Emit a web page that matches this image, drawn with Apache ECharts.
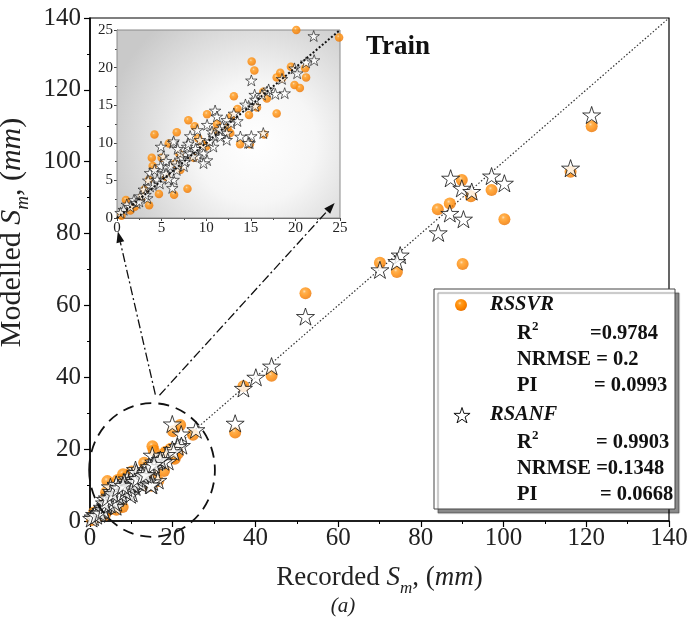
<!DOCTYPE html>
<html><head><meta charset="utf-8">
<script src="https://cdn.jsdelivr.net/npm/echarts@6/dist/echarts.min.js"></script>
<style>html,body{margin:0;padding:0;background:#fff}#c{width:687px;height:624px}</style>
</head><body><div id="c"></div>
<script>
// ---------- data ----------
const rssvrRecorded = [121.3,116.2,89.9,92.1,97.1,100.2,87.0,84.1,90.1,74.2,70.1,52.1,43.9,37.1,35.1,21.8,
  20.1,24.9,15.1,15.4,18.3,17.9,21.1,21.2,19.9,20.5,16.8,13.1,17.9,14.8,10.1,8.0,11.2,8.7,4.2,6.7,12.7,9.1,13.8,14.9,16.5,5.8,5.0,3.9,4.0,8.6,3.6,7.1,4.7,6.4,7.9,3.1,3.6,1.0,15.7,12.8,11.0,10.0,6.5,2.0,1.5,12.4,9.5,7.0,5.5,2.8,18.5,16.4,19.5,0.5,13.5];
const rssvrModelled = [109.9,97.2,94.9,90.4,92.1,84.0,88.4,86.8,71.5,69.3,71.9,63.4,40.4,37.5,24.6,26.7,
  25.0,24.0,20.8,19.6,19.3,18.7,19.9,18.7,17.7,17.3,15.9,16.2,13.9,13.7,13.8,13.0,12.5,12.2,11.1,11.4,11.3,10.6,9.8,9.8,11.1,9.9,8.0,8.0,6.9,8.0,5.1,6.4,3.2,3.1,3.9,3.8,1.7,2.4,14.7,13.5,11.5,9.5,7.2,1.5,1.0,12.0,10.0,8.5,5.5,2.8,18.6,16.8,20.1,0.3,14.5];
const rsanfRecorded = [121.3,116.2,87.2,89.9,92.3,97.1,100.2,87.0,90.3,84.2,75.0,74.2,70.1,52.1,43.9,40.1,37.1,35.1,25.6,19.9,
  22.05,22.1,21.2,19.9,20.2,18.5,18.8,17.75,16.8,16.25,15.06,15.43,15.5,14.76,16.4,15.06,13.83,14.87,11.0,13.1,12.3,11.8,10.1,9.0,8.2,6.3,4.93,12.3,11.6,10.8,9.7,10.1,9.0,9.7,8.2,7.3,6.5,6.7,6.0,4.9,5.2,3.7,6.35,6.2,4.5,3.7,3.0,2.6,1.9,1.1,0.75,0.4,2.2,3.4,7.5,7.85,9.3,10.65,7.1,5.2,11.2,17.0,14.4,15.5,12.3,14.7,6.35,
  1.5,2.5,3.2,4.0,4.8,5.5,5.8,6.8,7.6,8.5,8.8,9.6,10.4,10.8,11.5,12.8,13.5,3.5,4.2,5.5,6.8,8.0];
const rsanfModelled = [113.0,98.2,95.4,92.6,91.7,96.0,94.0,85.6,84.0,80.2,74.0,72.2,69.9,56.9,43.1,40.0,36.9,27.2,25.4,27.0,
  24.2,21.0,20.7,19.9,19.25,18.5,16.6,16.5,16.8,16.4,18.3,16.4,14.9,14.9,11.3,10.9,10.84,9.96,14.3,13.9,13.05,12.2,12.4,11.7,10.9,10.0,9.5,11.3,10.8,9.5,8.6,7.7,8.2,7.3,8.6,8.0,7.3,6.4,6.9,6.9,6.0,6.0,5.1,4.0,5.1,4.2,3.8,2.9,2.4,1.8,1.1,0.7,2.0,2.65,6.9,9.5,10.4,11.5,8.6,8.2,13.5,17.1,15.1,15.75,10.4,10.0,10.2,
  1.5,2.2,3.1,4.4,4.6,5.9,5.2,7.0,7.5,8.2,9.2,9.6,10.2,11.0,11.8,12.6,12.9,5.0,6.4,7.6,9.2,9.9];
const mainTicks = [0,20,40,60,80,100,120,140];
const insetTicks = [0,5,10,15,20,25];
const seriesNames = ['RSSVR','RSANF'];
const statLabels = ['NRMSE','PI'];
const rssvrStats = ['=0.9784','NRMSE = 0.2','= 0.0993'];
const rsanfStats = ['= 0.9903','NRMSE =0.1348','= 0.0668'];

// ---------- styling ----------
const FONT = "'Liberation Serif','Times New Roman',serif";
const zip = (a, b) => a.map((v, i) => [v, b[i]]);
const STAR = 'path://M50 0 L61.23 34.55 L97.55 34.55 L68.17 55.9 L79.39 90.45 L50 69.1 L20.61 90.45 L31.83 55.9 L2.45 34.55 L38.77 34.55 Z';
const sphere = {type:'radial', x:0.4, y:0.35, r:0.66, colorStops:[
  {offset:0,color:'#ffd7a2'},{offset:0.22,color:'#ff9d22'},{offset:0.6,color:'#ff8800'},{offset:1,color:'#ea7300'}]};
const insetBg = {type:'radial', x:0.62, y:0.6, r:0.8, colorStops:[
  {offset:0,color:'#ffffff'},{offset:0.4,color:'#f6f6f6'},{offset:1,color:'#c9c9c9'}]};

const rssvrData = zip(rssvrRecorded, rssvrModelled);
const rsanfData = zip(rsanfRecorded, rsanfModelled);
const mainMax = mainTicks[mainTicks.length-1], mainStep = mainTicks[1]-mainTicks[0];
const insMax = insetTicks[insetTicks.length-1], insStep = insetTicks[1]-insetTicks[0];

function nameRich(fs){
  return {
    n:{fontSize:fs, fontFamily:FONT, color:'#222', lineHeight:fs+11},
    i:{fontSize:fs, fontFamily:FONT, color:'#222', fontStyle:'italic', lineHeight:fs+11},
    s:{fontSize:Math.round(fs*0.64), fontFamily:FONT, color:'#222', fontStyle:'italic', lineHeight:Math.round(fs*0.64), verticalAlign:'bottom'}
  };
}

const chart = echarts.init(document.getElementById('c'), null, {renderer:'canvas'});
const option = {
  animation:false,
  backgroundColor:'#fff',
  title:{text:'Train', left:361, top:29, textStyle:{fontFamily:FONT, fontSize:27, fontWeight:'bold', color:'#111'}},
  grid:[
    {left:90, top:18, width:579, height:503, show:true, borderColor:'#000', borderWidth:1.2, backgroundColor:'transparent',
     containLabel:false, outerBoundsMode:'none'},
    {left:117, top:30, width:223, height:188, show:true, borderColor:'#8a8a8a', borderWidth:1, backgroundColor:insetBg, z:1,
     containLabel:false, outerBoundsMode:'none'}
  ],
  xAxis:[
    {gridIndex:0, type:'value', min:0, max:mainMax, interval:mainStep,
     name:'{n|Recorded }{i|S}{s|m}{n|, (}{i|mm}{n|)}', nameLocation:'middle', nameGap:38,
     nameTextStyle:{rich:nameRich(27)},
     axisLine:{show:true, lineStyle:{color:'#000', width:1.5}},
     axisTick:{show:true, inside:false, length:6, lineStyle:{color:'#000', width:1.2}},
     minorTick:{show:true, splitNumber:2, length:3, lineStyle:{color:'#000', width:1}},
     axisLabel:{fontFamily:FONT, fontSize:25, color:'#222', margin:5},
     splitLine:{show:false}},
    {gridIndex:1, type:'value', min:0, max:insMax, interval:insStep,
     axisLine:{show:true, lineStyle:{color:'#555', width:1}},
     axisTick:{show:true, inside:false, length:3, lineStyle:{color:'#444'}},
     minorTick:{show:true, splitNumber:2, length:2, lineStyle:{color:'#444'}},
     axisLabel:{fontFamily:FONT, fontSize:15, color:'#222', margin:3},
     splitLine:{show:false}}
  ],
  yAxis:[
    {gridIndex:0, type:'value', min:0, max:mainMax, interval:mainStep,
     name:'{n|Modelled }{i|S}{s|m}{n|, (}{i|mm}{n|)}', nameLocation:'middle', nameGap:50,
     nameTextStyle:{rich:nameRich(30), padding:[0,0,0,74]},
     axisLine:{show:true, lineStyle:{color:'#000', width:1.5}},
     axisTick:{show:true, inside:false, length:6, lineStyle:{color:'#000', width:1.2}},
     minorTick:{show:true, splitNumber:2, length:3, lineStyle:{color:'#000', width:1}},
     axisLabel:{fontFamily:FONT, fontSize:25, color:'#222', margin:9},
     splitLine:{show:false}},
    {gridIndex:1, type:'value', min:0, max:insMax, interval:insStep,
     axisLine:{show:true, lineStyle:{color:'#555', width:1}},
     axisTick:{show:true, inside:false, length:3, lineStyle:{color:'#444'}},
     minorTick:{show:true, splitNumber:2, length:2, lineStyle:{color:'#444'}},
     axisLabel:{fontFamily:FONT, fontSize:15, color:'#222', margin:4},
     splitLine:{show:false}}
  ],
  series:[
    {type:'line', xAxisIndex:0, yAxisIndex:0, data:[[0,0],[mainMax,mainMax]], symbol:'none', silent:true,
     lineStyle:{color:'#333', width:1.2, type:[1.5,2]}, z:1},
    {name:seriesNames[0], type:'scatter', xAxisIndex:0, yAxisIndex:0, data:rssvrData, symbolSize:12,
     itemStyle:{color:sphere}, z:2},
    {name:seriesNames[1], type:'scatter', xAxisIndex:0, yAxisIndex:0, data:rsanfData, symbol:STAR, symbolSize:18, symbolKeepAspect:true,
     itemStyle:{color:'#fff', borderColor:'#111', borderWidth:1}, z:3},
    {type:'scatter', xAxisIndex:1, yAxisIndex:1, data:rssvrData, symbolSize:8.5, clip:true,
     itemStyle:{color:sphere}, z:4},
    {type:'scatter', xAxisIndex:1, yAxisIndex:1, data:rsanfData, symbol:STAR, symbolSize:11.5, symbolKeepAspect:true, clip:true,
     itemStyle:{color:'#fff', borderColor:'#111', borderWidth:0.8}, z:5},
    {type:'line', xAxisIndex:1, yAxisIndex:1, data:[[0,0],[insMax,insMax]], symbol:'none', silent:true,
     lineStyle:{color:'#111', width:2, type:[2,2]}, z:6}
  ]
};
chart.setOption(option);

// ---------- annotations (anchored to axis coordinates) ----------
const P = (g, pt) => chart.convertToPixel({gridIndex:g}, pt);
const circC = P(0,[15,14.2]), circR = P(0,[30.2,32.8]);
const rx = circR[0]-circC[0], ry = circC[1]-circR[1];
const start1 = P(0,[15.8,35.2]), start2 = P(0,[16.8,35.0]);
const tip1 = P(1,[0.1,-1.8]), tip2 = P(1,[24.4,2.0]);
function head(from, to, len, half){
  const dx=to[0]-from[0], dy=to[1]-from[1], L=Math.hypot(dx,dy), ux=dx/L, uy=dy/L;
  const bx=to[0]-ux*len, by=to[1]-uy*len;
  return {base:[bx,by], pts:[[to[0],to[1]],[bx-uy*half,by+ux*half],[bx+uy*half,by-ux*half]]};
}
const h1 = head(start1, tip1, 11, 4), h2 = head(start2, tip2, 11, 4);
const dashDot = [9,3,2,3];

function starPts(cx, cy, R){
  const pts=[]; const r=R*0.382;
  for(let k=0;k<10;k++){ const a=-Math.PI/2+k*Math.PI/5; const rr=k%2?r:R; pts.push([cx+rr*Math.cos(a), cy+rr*Math.sin(a)]); }
  return pts;
}
const txt = (x,y,t,font) => ({type:'text', x, y, z:101, style:{text:t, font, fill:'#111', verticalAlign:'middle'}});
const BF = 'bold 20.5px ' + FONT, BI = 'italic bold 20.5px ' + FONT, SUP = 'bold 13px ' + FONT;

chart.setOption({graphic:[
  {type:'ellipse', shape:{cx:circC[0], cy:circC[1], rx, ry}, style:{fill:null, stroke:'#111', lineWidth:1.8, lineDash:[11,7]}, z:50},
  {type:'polyline', shape:{points:[start1, h1.base]}, style:{stroke:'#111', lineWidth:1.3, lineDash:dashDot, fill:null}, z:50},
  {type:'polygon', shape:{points:h1.pts}, style:{fill:'#111'}, z:50},
  {type:'polyline', shape:{points:[start2, h2.base]}, style:{stroke:'#111', lineWidth:1.3, lineDash:dashDot, fill:null}, z:50},
  {type:'polygon', shape:{points:h2.pts}, style:{fill:'#111'}, z:50},
  {type:'text', x:343, y:606, z:50, style:{text:'(a)', font:'italic 21px ' + FONT, fill:'#222', align:'center', verticalAlign:'middle'}},
  // legend box
  {type:'rect', shape:{x:434, y:289, width:241, height:220}, z:100,
   style:{fill:'#fff', stroke:'#444', lineWidth:1, shadowColor:'rgba(0,0,0,0.45)', shadowOffsetX:4, shadowOffsetY:4, shadowBlur:1}},
  {type:'circle', shape:{cx:461, cy:305, r:6}, style:{fill:sphere}, z:101},
  {type:'polygon', shape:{points:starPts(462,416,8.5)}, style:{fill:'#fff', stroke:'#111', lineWidth:1}, z:101},
  txt(490,305,seriesNames[0],BI),
  txt(517,334,'R',BF), txt(532,327,'2',SUP), txt(590,334,rssvrStats[0],BF),
  txt(517,360,rssvrStats[1],BF),
  txt(517,386,statLabels[1],BF), txt(594,386,rssvrStats[2],BF),
  txt(490,415,seriesNames[1],BI),
  txt(517,443,'R',BF), txt(532,436,'2',SUP), txt(596,443,rsanfStats[0],BF),
  txt(517,469,rsanfStats[1],BF),
  txt(517,495,statLabels[1],BF), txt(600,495,rsanfStats[2],BF)
]});
</script></body></html>
